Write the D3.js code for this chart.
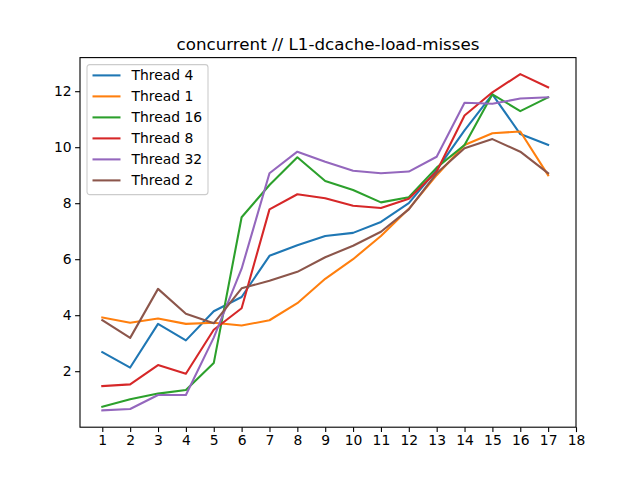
<!DOCTYPE html>
<html>
<head>
<meta charset="utf-8">
<script src="https://cdn.jsdelivr.net/npm/d3@7"></script>
<style>
  body { margin: 0; background: #fff; }
  text { font-family: "DejaVu Sans", sans-serif; fill: #000; }
</style>
</head>
<body>
<script>
// chart data
const xs = [1, 2, 3, 4, 5, 6, 7, 8, 9, 10, 11, 12, 13, 14, 15, 16, 17]
const xTicks = [1, 2, 3, 4, 5, 6, 7, 8, 9, 10, 11, 12, 13, 14, 15, 16, 17, 18]
const yTicks = [2, 4, 6, 8, 10, 12]
const seriesNames = ["Thread 4", "Thread 1", "Thread 16", "Thread 8", "Thread 32", "Thread 2"]
const colors = ["#1f77b4", "#ff7f0e", "#2ca02c", "#d62728", "#9467bd", "#8c564b"]

const thread4  = [2.68, 2.13, 3.69, 3.10, 4.14, 4.65, 6.12, 6.50, 6.83, 6.94, 7.33, 8.00, 9.19, 10.6, 11.89, 10.47, 10.08]
const thread1  = [3.92, 3.73, 3.88, 3.69, 3.73, 3.63, 3.82, 4.43, 5.30, 6.00, 6.83, 7.80, 9.00, 10.08, 10.50, 10.56, 9.00]
const thread16 = [0.73, 1.00, 1.20, 1.33, 2.29, 7.50, 8.65, 9.64, 8.79, 8.47, 8.03, 8.21, 9.27, 10.08, 11.89, 11.29, 11.78]
const thread8  = [1.47, 1.53, 2.22, 1.91, 3.48, 4.25, 7.78, 8.32, 8.18, 7.91, 7.83, 8.16, 9.13, 11.13, 11.96, 12.61, 12.14]
const thread32 = [0.60, 0.65, 1.15, 1.15, 3.20, 5.66, 9.07, 9.84, 9.48, 9.16, 9.07, 9.13, 9.66, 11.59, 11.55, 11.74, 11.78]
const thread2  = [3.82, 3.19, 4.94, 4.05, 3.71, 4.96, 5.23, 5.55, 6.07, 6.48, 6.98, 7.78, 9.07, 9.96, 10.29, 9.84, 9.07]

const allSeries = [thread4, thread1, thread16, thread8, thread32, thread2]

const W = 640, H = 480
const mLeft = 80, mRight = 576, mTop = 57.6, mBottom = 427.2

let svg = d3.select('body')
    .append('svg')
    .attr('width', W)
    .attr('height', H)
    .style('background', '#fff')

let x = d3.scaleLinear().domain([0.2, 18]).range([mLeft, mRight])
let y = d3.scaleLinear().domain([0, 13.2]).range([mBottom, mTop])

// lines
let line = d3.line()
    .x((d, i) => x(xs[i]))
    .y(d => y(d))

svg.append('g').selectAll('path')
    .data(allSeries)
    .enter()
    .append('path')
    .attr('d', d => line(d))
    .style('fill', 'none')
    .style('stroke', (d, i) => colors[i])
    .style('stroke-width', 2.08)
    .style('stroke-linejoin', 'round')
    .style('stroke-linecap', 'square')

// axes
let xAxis = svg.append('g')
    .attr('transform', `translate(0,${mBottom})`)
    .call(d3.axisBottom(x).tickValues(xTicks).tickSize(4.9).tickPadding(3.5).tickFormat(d3.format('d')))
let yAxis = svg.append('g')
    .attr('transform', `translate(${mLeft},0)`)
    .call(d3.axisLeft(y).tickValues(yTicks).tickSize(4.9).tickPadding(3.5).tickFormat(d3.format('d')))

for (let ax of [xAxis, yAxis]) {
  ax.select('.domain').remove()
  ax.selectAll('.tick line').style('stroke', '#000').style('stroke-width', 1.1)
  ax.selectAll('.tick text').style('font-size', '13.9px').style('font-family', '"DejaVu Sans", sans-serif')
}

// frame
svg.append('rect')
    .attr('x', mLeft)
    .attr('y', mTop)
    .attr('width', mRight - mLeft)
    .attr('height', mBottom - mTop)
    .style('fill', 'none')
    .style('stroke', '#000')
    .style('stroke-width', 1.1)

// title
svg.append('text')
    .attr('x', (mLeft + mRight) / 2)
    .attr('y', mTop - 8)
    .attr('text-anchor', 'middle')
    .style('font-size', '16.7px')
    .text('concurrent // L1-dcache-load-misses')

// legend
let lg = svg.append('g').attr('transform', `translate(${mLeft + 7},${mTop + 7})`)
lg.append('rect')
    .attr('x', 0)
    .attr('y', 0)
    .attr('width', 121)
    .attr('height', 130)
    .attr('rx', 2.8)
    .style('fill', '#fff')
    .style('fill-opacity', 0.8)
    .style('stroke', '#ccc')
    .style('stroke-width', 1.1)

let items = lg.selectAll('g.item')
    .data(seriesNames)
    .enter()
    .append('g')
    .attr('class', 'item')
    .attr('transform', (d, i) => `translate(0,${10.8 + i * 21})`)

items.append('line')
    .attr('x1', 5.5)
    .attr('x2', 33.5)
    .attr('y1', 0)
    .attr('y2', 0)
    .style('stroke', (d, i) => colors[i])
    .style('stroke-width', 2.08)

items.append('text')
    .attr('x', 44.5)
    .attr('y', 0)
    .attr('dy', '0.36em')
    .style('font-size', '13.9px')
    .text(d => d)
</script>
</body>
</html>
